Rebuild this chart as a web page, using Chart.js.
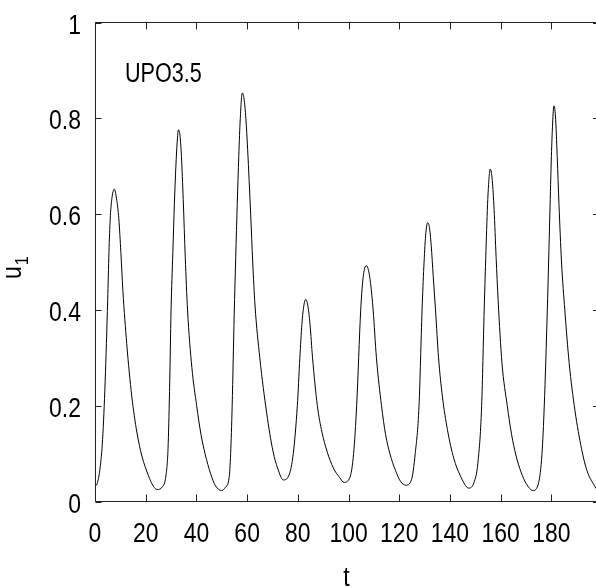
<!DOCTYPE html>
<html>
<head>
<meta charset="utf-8">
<script src="https://cdn.jsdelivr.net/npm/chart.js@4.4.1/dist/chart.umd.min.js"></script>
<style>
  html, body { margin: 0; padding: 0; background: #fff; overflow: hidden; }
  #wrap { position: relative; width: 596px; height: 587px; }
</style>
</head>
<body>
<div id="wrap"><canvas id="c" width="596" height="587"></canvas></div>
<script>
// time samples (peaks, minima and crossings)
const tValues = [
  0, 1, 2, 3, 4, 5, 5.5, 6, 6.6, 7.6, 8.5, 9.4, 10.2, 11, 12.5, 14.5, 16.5, 18.5, 21, 23, 24.5,
  26.5, 28, 28.8, 29.4, 30, 30.7, 31.3, 31.9, 32.4, 32.9, 33.5, 34.1, 34.8, 35.6, 36.5, 38.2, 40.1, 41.8, 43.4, 45.6, 47.5, 50,
  51.5, 52.9, 53.5, 54.1, 54.9, 55.5, 56.1, 56.7, 57.3, 58.1, 58.8, 59.5, 60.2, 61.4, 62.2, 63.1, 65, 67.7, 70.2, 72, 74.3,
  76.5, 78.2, 79.8, 80.8, 81.6, 82.4, 83.1, 83.9, 84.8, 85.8, 87.7, 89.5, 91.5, 94, 96.5, 98.2,
  100.5, 102, 103.2, 104.8, 105.6, 106.3, 107.1, 107.9, 108.7, 109.7, 111, 113, 114.6, 116.3, 118.5, 120.5, 122.6,
  124.8, 126.3, 127.8, 129, 129.7, 130.4, 131.2, 131.9, 132.6, 133.4, 134.3, 135.5, 137, 139, 141.5, 144, 147.4,
  149.5, 151, 152.5, 153.5, 154.3, 155, 155.9, 156.7, 157.4, 158.2, 159, 160.5, 162.6, 164.3, 166, 168, 170, 172.8,
  175, 176.3, 177.2, 178.4, 179.4, 180, 180.5, 181, 181.6, 182.3, 183, 184, 185.3, 187, 189.3, 191.9, 194, 197.6
];
const u1Values = [
  0.031, 0.04, 0.07, 0.13, 0.25, 0.42, 0.52, 0.59, 0.63, 0.652, 0.632, 0.59, 0.52, 0.44, 0.33, 0.22, 0.145, 0.095, 0.055, 0.032, 0.025,
  0.03, 0.055, 0.11, 0.23, 0.4, 0.52, 0.62, 0.7, 0.75, 0.776, 0.765, 0.72, 0.63, 0.51, 0.4, 0.28, 0.2, 0.14, 0.1, 0.058, 0.033, 0.023,
  0.03, 0.05, 0.1, 0.2, 0.39, 0.51, 0.62, 0.72, 0.8, 0.853, 0.84, 0.8, 0.735, 0.6, 0.5, 0.41, 0.3, 0.185, 0.105, 0.07, 0.045,
  0.055, 0.1, 0.2, 0.3, 0.37, 0.41, 0.422, 0.41, 0.37, 0.3, 0.2, 0.145, 0.105, 0.07, 0.05, 0.04,
  0.05, 0.1, 0.2, 0.4, 0.46, 0.486, 0.492, 0.482, 0.455, 0.4, 0.3, 0.2, 0.14, 0.1, 0.065, 0.042, 0.034,
  0.045, 0.1, 0.2, 0.4, 0.49, 0.555, 0.582, 0.572, 0.535, 0.47, 0.4, 0.3, 0.22, 0.15, 0.09, 0.055, 0.028,
  0.04, 0.08, 0.2, 0.4, 0.54, 0.64, 0.694, 0.67, 0.61, 0.51, 0.42, 0.29, 0.2, 0.14, 0.097, 0.062, 0.038, 0.023,
  0.04, 0.1, 0.2, 0.4, 0.6, 0.72, 0.79, 0.826, 0.805, 0.72, 0.62, 0.5, 0.4, 0.29, 0.19, 0.11, 0.065, 0.027
];
const xTickValues = [0, 20, 40, 60, 80, 100, 120, 140, 160, 180];
const xTickLabels = ["0", "20", "40", "60", "80", "100", "120", "140", "160", "180"];
const yTickValues = [0, 0.2, 0.4, 0.6, 0.8, 1];
const yTickLabels = ["0", "0.2", "0.4", "0.6", "0.8", "1"];

const FONT = '"Liberation Sans", Arial, sans-serif';
const SQUEEZE = 0.85; // the original lettering is a narrow face

function narrowText(ctx, str, x, y, align, sx) {
  ctx.save();
  ctx.translate(x, y);
  ctx.scale(sx || SQUEEZE, 1);
  ctx.textAlign = align;
  ctx.fillText(str, 0, 0);
  ctx.restore();
}

// gnuplot style frame: inward ticks on all sides, labels and axis titles
const framePlugin = {
  id: "frame",
  afterDraw(chart) {
    const { ctx, chartArea: a, scales: { x, y } } = chart;
    ctx.save();
    ctx.strokeStyle = "#222";
    ctx.lineWidth = 1;
    ctx.beginPath();
    const L = a.left + 0.5, R = a.right, T = a.top, B = a.bottom;
    ctx.moveTo(L, T); ctx.lineTo(R, T);
    ctx.moveTo(L, T); ctx.lineTo(L, B);
    ctx.moveTo(L, B); ctx.lineTo(R, B);
    xTickValues.forEach((v) => {
      const px = Math.round(x.getPixelForValue(v)) + 0.5;
      ctx.moveTo(px, B); ctx.lineTo(px, B - 7);
      ctx.moveTo(px, T); ctx.lineTo(px, T + 7);
    });
    yTickValues.forEach((v) => {
      const py = Math.round(y.getPixelForValue(v)) + 0.5;
      ctx.moveTo(L, py); ctx.lineTo(L + 6, py);
      ctx.moveTo(R, py); ctx.lineTo(R - 3, py);
    });
    ctx.stroke();

    ctx.fillStyle = "#000";
    ctx.font = "27px " + FONT;
    ctx.textBaseline = "alphabetic";
    xTickValues.forEach((v, i) => {
      narrowText(ctx, xTickLabels[i], x.getPixelForValue(v), 542, "center");
    });
    yTickValues.forEach((v, i) => {
      narrowText(ctx, yTickLabels[i], 81, y.getPixelForValue(v) + 11, "right");
    });

    narrowText(ctx, "t", (a.left + a.right) / 2 + 1, 586, "center");
    narrowText(ctx, "UPO3.5", 125, 82, "left", 0.8);

    // y title: u with subscript 1, rotated
    ctx.translate(21, 279);
    ctx.rotate(-Math.PI / 2);
    narrowText(ctx, "u", 0, 0, "left");
    const uw = ctx.measureText("u").width * SQUEEZE;
    ctx.font = "19px " + FONT;
    narrowText(ctx, "1", uw + 1, 7, "left");
    ctx.restore();
  }
};

const points = tValues.map((t, i) => ({ x: t, y: u1Values[i] }));

new Chart(document.getElementById("c"), {
  type: "line",
  data: {
    datasets: [{
      data: points,
      borderColor: "#000",
      borderWidth: 1,
      pointRadius: 0,
      fill: false,
      cubicInterpolationMode: "monotone"
    }]
  },
  options: {
    responsive: false,
    animation: false,
    layout: { padding: { top: 22.5, right: 0, left: 0, bottom: 0 } },
    plugins: { legend: { display: false }, tooltip: { enabled: false } },
    scales: {
      x: {
        type: "linear",
        min: 0,
        max: 197.6,
        afterFit: (s) => { s.height = 85.5; },
        grid: { display: false, drawTicks: false },
        border: { display: false },
        ticks: { display: false }
      },
      y: {
        min: 0,
        max: 1,
        afterFit: (s) => { s.width = 95; },
        grid: { display: false, drawTicks: false },
        border: { display: false },
        ticks: { display: false }
      }
    }
  },
  plugins: [framePlugin]
});
</script>
</body>
</html>
